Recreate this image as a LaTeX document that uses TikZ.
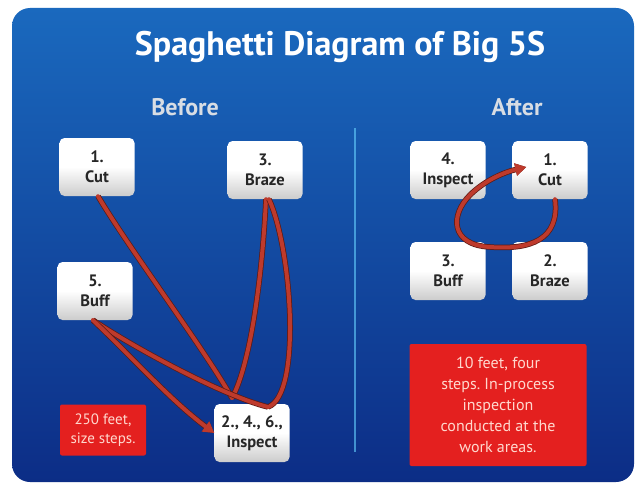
\documentclass[tikz,border=0pt]{standalone}
\usepackage{fontspec}
\setmainfont{PT Sans}
\usepackage{tikz}
\usetikzlibrary{
arrows.meta,
positioning
}
\definecolor{paneltop}{HTML}{1A69BE}
\definecolor{panelbot}{HTML}{0C2D86}
\definecolor{noteRed}{HTML}{E4201F}
\definecolor{noteText}{HTML}{FFD8CE}
\definecolor{pathRed}{HTML}{BE3A2C}
\definecolor{pathDark}{HTML}{5E1A14}
\definecolor{headGray}{HTML}{D8DDE4}

\begin{document}
\frenchspacing
\begin{tikzpicture}[
x=1pt, y=-1pt,
station/.style={
rectangle,
rounded corners=5pt,
top color=white,
bottom color=black!20,
middle color=white,
minimum width=75pt,
minimum height=58pt,
align=center,
text=black!85,
font=\bfseries\fontsize{16.5}{20}\selectfont
},
note/.style={
rectangle,
rounded corners=2pt,
fill=noteRed,
text=noteText,
align=center
},
spag/.style={
line width=4pt,
draw=pathRed,
line cap=round,
line join=round,
preaction={draw=pathDark, line width=5.5pt}
},
tip/.style={-{Triangle[length=11pt,width=12pt]}}
]
\useasboundingbox (0,0) rectangle (639,492);

% panel
\shade[top color=paneltop, bottom color=panelbot, rounded corners=18pt]
(12,8) rectangle (634,482);

\node[text=white, font=\bfseries\fontsize{34}{40}\selectfont] (title) at (340,47) {Spaghetti Diagram of Big 5S};
\node[text=headGray, font=\bfseries\fontsize{24}{28}\selectfont] (before) at (185,107) {Before};
\node[text=headGray, font=\bfseries\fontsize{24}{28}\selectfont] (after) at (517,107) {After};
\draw[line width=2pt, color=blue!30!cyan!60!white, opacity=0.6] (355,128) -- (355,452);

% before layout
\node[station] (cutA) at (97,167) {1.\\Cut};
\node[station] (brazeA) at (265,170) {3.\\Braze};
\node[station] (buffA) at (95,291) {5.\\Buff};
\node[station] (inspA) at (252,433) {2., 4., 6.,\\Inspect};
\node[note, minimum width=86pt, minimum height=51pt, font=\fontsize{15}{19}\selectfont] (noteA) at (103,430) {250 feet,\\size steps.};

\coordinate (jA) at (232,398);
\coordinate (jB) at (268,407);
\draw[spag] ([xshift=1pt]cutA.south) .. controls (130,250) and (205,350) .. (jA);
\draw[spag] (jA) .. controls (250,365) and (262,280) .. ([xshift=1pt]brazeA.south);
\draw[spag] ([xshift=4pt]brazeA.south) .. controls (292,250) and (302,395) .. (jB);
\draw[spag] (jB) .. controls (220,395) and (130,345) .. ([xshift=-2pt]buffA.south);
\draw[spag, tip] ([xshift=-2pt]buffA.south) .. controls (130,355) and (170,400) .. (inspA.west);

% after layout
\node[station] (inspB) at (448,170) {4.\\Inspect};
\node[station] (cutB) at (550,170) {1.\\Cut};
\node[station] (buffB) at (448,271) {3.\\Buff};
\node[station] (brazeB) at (550,271) {2.\\Braze};
\node[note, minimum width=177pt, minimum height=122pt, font=\fontsize{16}{21}\selectfont] (noteB) at (498,405)
{10 feet, four\\steps. In-process\\inspection\\conducted at the\\work areas.};

\draw[spag, tip] ([xshift=5pt]cutB.south) .. controls (560,240) and (530,250) .. (490,247)
.. controls (450,245) and (450,215) .. (470,195)
.. controls (485,180) and (505,172) .. ([xshift=14pt,yshift=3pt]cutB.west);

\end{tikzpicture}
\end{document}
